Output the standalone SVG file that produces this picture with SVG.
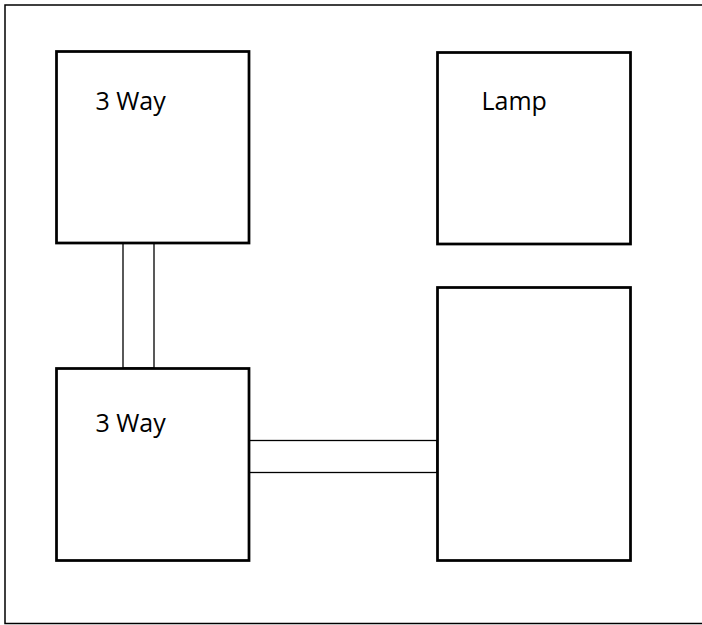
<svg xmlns="http://www.w3.org/2000/svg" width="702" height="625" viewBox="0 0 702 625">
<style>
.frame{fill:none;stroke:#000;stroke-width:1.5}
.box{fill:#fff;stroke:#000;stroke-width:2.75}
.wire{fill:#fff;stroke:#000;stroke-width:1.3}
.lbl{font-family:"Open Sans","Liberation Sans",sans-serif;font-size:25px;fill:#000}
</style>
<rect width="702" height="625" fill="#fff"/>
<rect class="frame" x="5" y="5" width="710" height="618.5"/>
<g id="connectors">
<rect class="wire" x="123" y="243" width="31" height="125"/>
<rect class="wire" x="249" y="440.5" width="188" height="32"/>
</g>
<g id="threeway-top">
<rect class="box" x="56.5" y="51.5" width="192.5" height="191.5"/>
<text class="lbl" x="95.5" y="110">3 Way</text>
</g>
<g id="lamp">
<rect class="box" x="437.5" y="52.5" width="193" height="191.5"/>
<text class="lbl" x="481.5" y="110">Lamp</text>
</g>
<g id="threeway-bottom">
<rect class="box" x="56.5" y="368.5" width="192.5" height="192"/>
<text class="lbl" x="95.5" y="431.5">3 Way</text>
</g>
<g id="box-right">
<rect class="box" x="437.5" y="287.5" width="193" height="273"/>
</g>
</svg>
